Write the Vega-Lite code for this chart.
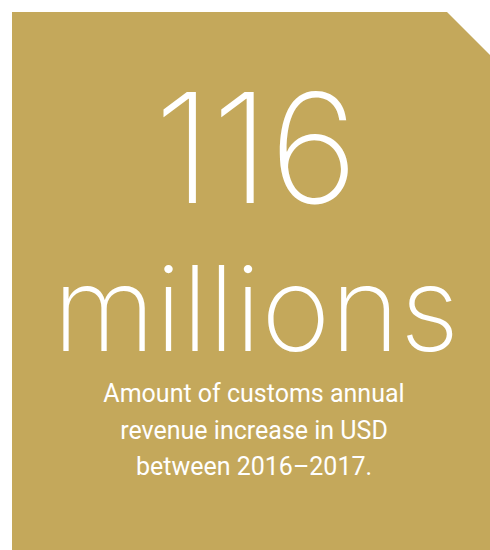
{
  "$schema": "https://vega.github.io/schema/vega-lite/v6.json",
  "width": 490,
  "height": 550,
  "autosize": {"type": "fit", "contains": "padding"},
  "padding": 0,
  "background": "white",
  "config": {"view": {"stroke": null}},
  "datasets": {
    "panel": [
      {"x": 12, "top": 12},
      {"x": 447, "top": 12},
      {"x": 490, "top": 55}
    ],
    "labels": [
      {"role": "figure", "text": "116"},
      {"role": "unit", "text": "millions"},
      {"role": "caption", "text": "Amount of customs annual\nrevenue increase in USD\nbetween 2016–2017."}
    ]
  },
  "layer": [
    {
      "data": {"name": "panel"},
      "mark": {"type": "area", "color": "#C4A85B", "opacity": 1},
      "encoding": {
        "x": {"field": "x", "type": "quantitative", "scale": {"domain": [0, 490], "nice": false, "zero": false}, "axis": null},
        "y": {"field": "top", "type": "quantitative", "scale": {"domain": [0, 550], "reverse": true, "nice": false, "zero": false}, "axis": null},
        "y2": {"datum": 550}
      }
    },
    {
      "data": {"name": "labels"},
      "transform": [{"filter": "datum.role === 'figure'"}],
      "mark": {"type": "text", "font": "Inter", "fontWeight": 200, "fontSize": 152, "color": "white", "align": "center", "baseline": "alphabetic"},
      "encoding": {
        "text": {"field": "text"},
        "x": {"datum": 256, "type": "quantitative"},
        "y": {"datum": 203, "type": "quantitative"}
      }
    },
    {
      "data": {"name": "labels"},
      "transform": [{"filter": "datum.role === 'unit'"}],
      "mark": {"type": "text", "font": "Inter", "fontWeight": 200, "fontSize": 118, "color": "white", "align": "center", "baseline": "alphabetic"},
      "encoding": {
        "text": {"field": "text"},
        "x": {"datum": 256, "type": "quantitative"},
        "y": {"datum": 351, "type": "quantitative"}
      }
    },
    {
      "data": {"name": "labels"},
      "transform": [{"filter": "datum.role === 'caption'"}],
      "mark": {"type": "text", "font": "Roboto", "fontWeight": 400, "fontSize": 25, "lineBreak": "\n", "lineHeight": 36.5, "color": "white", "align": "center", "baseline": "alphabetic"},
      "encoding": {
        "text": {"field": "text"},
        "x": {"datum": 254, "type": "quantitative"},
        "y": {"datum": 402, "type": "quantitative"}
      }
    }
  ]
}
